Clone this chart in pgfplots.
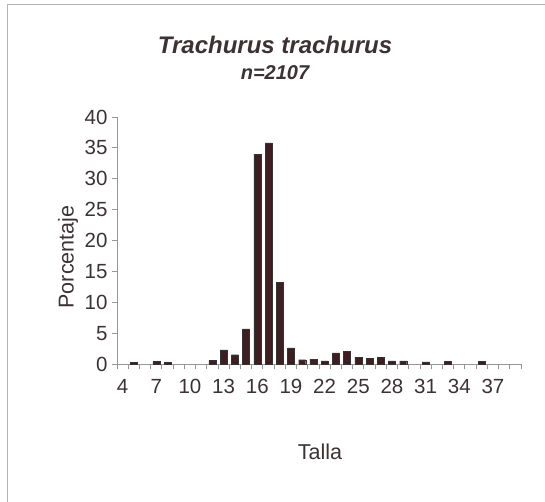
\documentclass[border=0pt]{standalone}
\usepackage{pgfplots}
\pgfplotsset{compat=1.18}
\usepackage{fontspec}
\setmainfont{Liberation Sans}
\definecolor{barfill}{RGB}{62,30,32}
\definecolor{txt}{RGB}{60,50,52}
\definecolor{axgray}{RGB}{150,150,150}
\begin{document}
\begin{tikzpicture}[x=1pt,y=1pt]
\useasboundingbox (0,0) rectangle (545,502);
\draw[color=axgray!70, line width=1pt] (7,-10) -- (7,497) -- (560,497);
\node[font=\bfseries\itshape\fontsize{24}{27}\selectfont, text=txt] at (275,457) {Trachurus trachurus};
\node[font=\bfseries\itshape\fontsize{20}{22}\selectfont, text=txt] at (275,429) {n=2107};
\begin{axis}[
  at={(117pt,138pt)}, anchor=south west,
  width=404pt, height=247pt, scale only axis,
  xmin=3.5, xmax=39.5, ymin=0, ymax=40,
  axis x line*=bottom, axis y line*=left,
  axis line style={color=axgray, line width=0.8pt},
  xtick={4,7,...,37},
  minor xtick={3.5,4.5,...,39.5},
  ytick={0,5,...,40},
  tick align=outside,
  major x tick style={draw=none},
  minor tick length=5pt,
  major tick length=5pt,
  every tick/.style={color=axgray, line width=0.8pt},
  tick label style={font=\fontsize{20.5}{22}\selectfont, text=txt},
  /pgf/number format/assume math mode=true,
  xticklabel style={yshift=-7pt},
  yticklabel style={xshift=-1pt},
  ybar, bar width=7pt,
  clip=false,
]
\addplot[fill=barfill, draw=black!80, line width=0.3pt] coordinates {
(5,0.3) (7,0.4) (8,0.3) (12,0.6) (13,2.3) (14,1.5) (15,5.7) (16,34.0) (17,35.8)
(18,13.2) (19,2.6) (20,0.7) (21,0.8) (22,0.5) (23,1.8) (24,2.1) (25,1.1) (26,0.9)
(27,1.1) (28,0.5) (29,0.5) (31,0.35) (33,0.4) (36,0.45)
};
\end{axis}
\node[font=\fontsize{21.5}{24}\selectfont, text=txt, rotate=90] at (68,245) {Porcentaje};
\node[font=\fontsize{21.5}{24}\selectfont, text=txt] at (320,50) {Talla};
\end{tikzpicture}
\end{document}
